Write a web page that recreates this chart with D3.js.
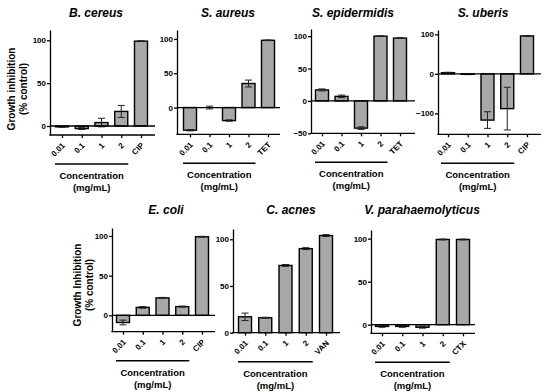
<!DOCTYPE html>
<meta charset="utf-8">
<style>
body { margin: 0; background: #fff; }
svg { font-family: "Liberation Sans", Arial, sans-serif; }
.bar { fill: #a8a8a8; stroke: #000; stroke-width: 1.4; }
.err { stroke: #222; stroke-width: 1; fill: none; }
.axis path, .axis line { stroke: #000; stroke-width: 1.3; }
.axis text { font-size: 8px; font-weight: bold; fill: #000; }
</style>
<body>
<svg id="chart" width="550" height="392"></svg>
</body>
<script src="https://d3js.org/d3.v7.min.js"></script>
<script>

// categories
var conc = ["0.01", "0.1", "1", "2"];

// B. cereus
var bcereusCats = conc.concat(["CIP"]);
var bcereusMean = [-1, -3, 4, 17, 99];
var bcereusSD = [0.6, 1, 5, 7, 0.5];

// S. aureus
var saureusCats = conc.concat(["TET"]);
var saureusMean = [-33, 0, -19, 35, 98];
var saureusSD = [1, 2, 1, 5, 0.5];

// S. epidermidis
var sepiCats = conc.concat(["TET"]);
var sepiMean = [17, 7, -42, 100, 97];
var sepiSD = [1.5, 2, 2, 0.5, 0.5];

// S. uberis
var suberisCats = conc.concat(["CIP"]);
var suberisMean = [3, -1, -117, -88, 96];
var suberisSD = [1, 1, 21, 54, 1];

// E. coli
var ecoliCats = conc.concat(["CIP"]);
var ecoliMean = [-9, 10, 22, 11, 99];
var ecoliSD = [3, 1, 0.6, 0.6, 0.5];

// C. acnes
var cacnesCats = conc.concat(["VAN"]);
var cacnesMean = [17, 16, 72, 90, 104];
var cacnesSD = [4, 0.5, 1, 1, 1];

// V. parahaemolyticus
var vparaCats = conc.concat(["CTX"]);
var vparaMean = [-2, -2, -3, 99, 99];
var vparaSD = [1, 1, 1, 0.5, 0.5];

// y ticks
var ticksStd = [0, 50, 100];
var ticksEpi = [-50, 0, 50, 100];
var ticksUberis = [-100, 0, 100];

var panels = [
  {title: "B. cereus", cats: bcereusCats, mean: bcereusMean, sd: bcereusSD, ticks: ticksStd,
   dom: [-10.5, 112], ax: 50, top: 30, bottom: 135, c0: 62, c1: 141, xEnd: 155, tx: 96, ty: 17},
  {title: "S. aureus", cats: saureusCats, mean: saureusMean, sd: saureusSD, ticks: ticksStd,
   dom: [-39, 113], ax: 177, top: 30, bottom: 134.3, c0: 190, c1: 268, xEnd: 280, tx: 228, ty: 17},
  {title: "S. epidermidis", cats: sepiCats, mean: sepiMean, sd: sepiSD, ticks: ticksEpi,
   dom: [-50, 111], ax: 311, top: 29, bottom: 133.3, c0: 322, c1: 400, xEnd: 415, tx: 353, ty: 17},
  {title: "S. uberis", cats: suberisCats, mean: suberisMean, sd: suberisSD, ticks: ticksUberis,
   dom: [-153, 111], ax: 438, top: 30, bottom: 134.3, c0: 448, c1: 527, xEnd: 541, tx: 483, ty: 17},
  {title: "E. coli", cats: ecoliCats, mean: ecoliMean, sd: ecoliSD, ticks: ticksStd,
   dom: [-20.6, 110], ax: 112, top: 228, bottom: 331.7, c0: 123, c1: 202, xEnd: 215, tx: 166, ty: 214},
  {title: "C. acnes", cats: cacnesCats, mean: cacnesMean, sd: cacnesSD, ticks: ticksStd,
   dom: [0, 111], ax: 233, top: 229, bottom: 332.7, c0: 245, c1: 326, xEnd: 340, tx: 291, ty: 214},
  {title: "V. parahaemolyticus", cats: vparaCats, mean: vparaMean, sd: vparaSD, ticks: ticksStd,
   dom: [-10, 110], ax: 371, top: 230, bottom: 333.3, c0: 382, c1: 463, xEnd: 475, tx: 422, ty: 214}
];

var svg = d3.select("#chart");
var barW = 13;

panels.forEach(function(p) {
  var g = svg.append("g");
  var y = d3.scaleLinear().domain(p.dom).range([p.bottom, p.top]);
  var x = d3.scalePoint().domain(p.cats).range([p.c0, p.c1]);
  var rows = p.cats.map(function(c, i) { return {cat: c, m: p.mean[i], sd: p.sd[i]}; });

  // title
  g.append("text")
    .attr("x", p.tx)
    .attr("y", p.ty)
    .attr("text-anchor", "middle")
    .style("font-size", "12px")
    .style("font-weight", "bold")
    .style("font-style", "italic")
    .text(p.title);

  // bars
  g.selectAll(".bar")
    .data(rows)
    .enter().append("rect")
      .attr("class", "bar")
      .attr("x", function(d) { return x(d.cat) - barW / 2; })
      .attr("y", function(d) { return y(Math.max(0, d.m)); })
      .attr("width", barW)
      .attr("height", function(d) { return Math.abs(y(d.m) - y(0)); });

  // error bars
  var eb = g.selectAll(".eb").data(rows).enter().append("g");
  eb.append("line").attr("class", "err")
    .attr("x1", function(d) { return x(d.cat); })
    .attr("x2", function(d) { return x(d.cat); })
    .attr("y1", function(d) { return y(d.m - d.sd); })
    .attr("y2", function(d) { return y(d.m + d.sd); });
  [-1, 1].forEach(function(s) {
    eb.append("line").attr("class", "err")
      .attr("x1", function(d) { return x(d.cat) - 3.5; })
      .attr("x2", function(d) { return x(d.cat) + 3.5; })
      .attr("y1", function(d) { return y(d.m + s * d.sd); })
      .attr("y2", function(d) { return y(d.m + s * d.sd); });
  });

  // y axis
  g.append("g")
    .attr("class", "axis")
    .attr("transform", "translate(" + p.ax + ",0)")
    .call(d3.axisLeft(y).tickValues(p.ticks).tickSize(3).tickSizeOuter(0).tickPadding(1));

  // zero line
  if (p.dom[0] < 0) {
    g.append("line")
      .attr("x1", p.ax).attr("x2", p.xEnd)
      .attr("y1", y(0)).attr("y2", y(0))
      .attr("stroke", "#000").attr("stroke-width", 1.3);
  }

  // x axis
  var xa = g.append("g")
    .attr("class", "axis")
    .attr("transform", "translate(0," + p.bottom + ")")
    .call(d3.axisBottom(x).tickSize(3).tickSizeOuter(0));
  xa.select(".domain").remove();
  xa.append("line")
    .attr("x1", p.ax - 0.65).attr("x2", p.xEnd)
    .attr("stroke", "#000").attr("stroke-width", 1.3);
  xa.selectAll(".tick text")
    .attr("text-anchor", "end")
    .attr("dy", null)
    .attr("y", 0)
    .attr("transform", "translate(3,11) rotate(-45)");

  // concentration bracket
  var ly = p.bottom + 29;
  g.append("line")
    .attr("x1", x(conc[0]) - barW / 2 - 0.5)
    .attr("x2", x(conc[3]) + barW / 2 + 0.5)
    .attr("y1", ly).attr("y2", ly)
    .attr("stroke", "#000").attr("stroke-width", 1.5);
  var cx = (x(conc[0]) + x(conc[3])) / 2;
  g.append("text")
    .attr("x", cx).attr("y", ly + 15)
    .attr("text-anchor", "middle")
    .style("font-size", "9.5px").style("font-weight", "bold")
    .text("Concentration");
  g.append("text")
    .attr("x", cx).attr("y", ly + 27)
    .attr("text-anchor", "middle")
    .style("font-size", "9.5px").style("font-weight", "bold")
    .text("(mg/mL)");
});

// y axis titles
function yTitle(x, cy, lines) {
  lines.forEach(function(t, i) {
    svg.append("text")
      .attr("transform", "translate(" + (x + i * 12) + "," + cy + ") rotate(-90)")
      .attr("text-anchor", "middle")
      .style("font-size", "10px").style("font-weight", "bold")
      .text(t);
  });
}
yTitle(14.5, 89, ["Growth inhibition", "(% control)"]);
yTitle(80.5, 285, ["Growth Inhibition", "(% control)"]);

</script>
